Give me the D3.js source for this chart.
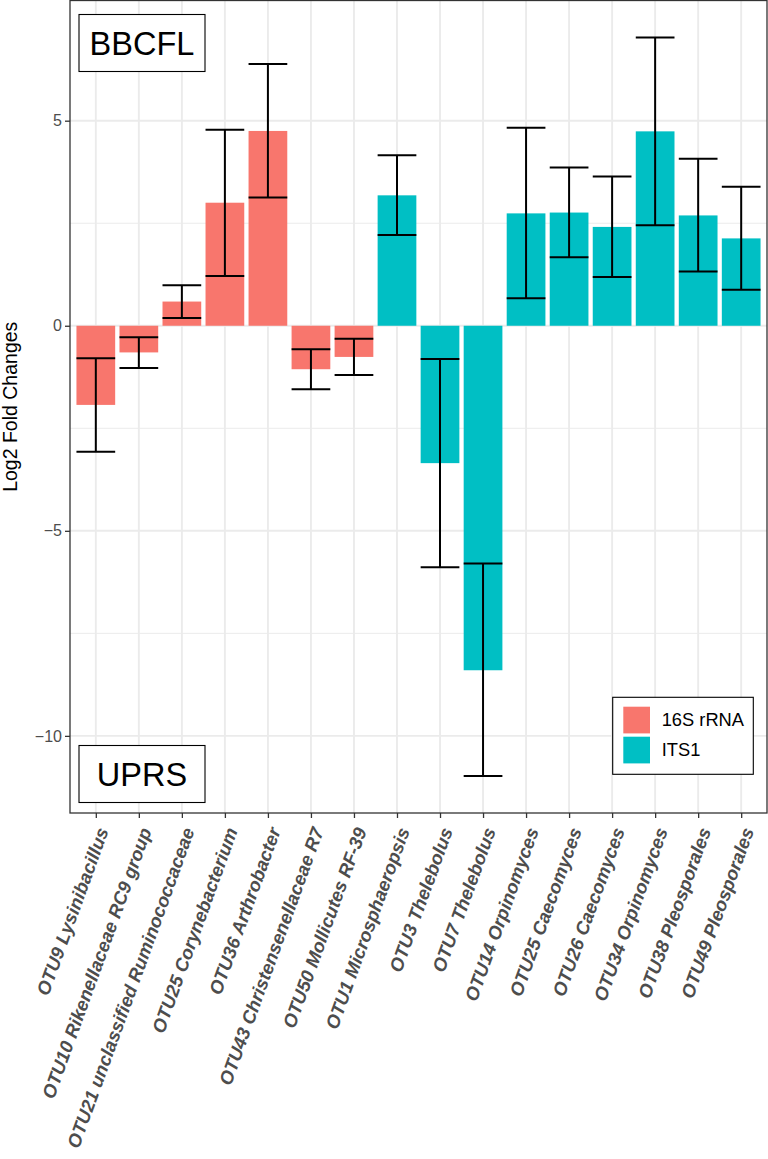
<!DOCTYPE html>
<html><head><meta charset="utf-8">
<script src="https://cdn.jsdelivr.net/npm/d3@7"></script>
<style>
html,body{margin:0;padding:0;background:#fff;}
svg{display:block;font-family:"Liberation Sans",Arial,Helvetica,sans-serif;}
</style></head>
<body>
<svg id="chart" width="768" height="1159"></svg>
<script>
// ---- data ----
const categories = [
  "OTU9 Lysinibacillus","OTU10 Rikenellaceae RC9 group","OTU21 unclassified Ruminococcaceae",
  "OTU25 Corynebacterium","OTU36 Arthrobacter","OTU43 Christensenellaceae R7","OTU50 Mollicutes RF-39",
  "OTU1 Microsphaeropsis","OTU3 Thelebolus","OTU7 Thelebolus","OTU14 Orpinomyces","OTU25 Caecomyces",
  "OTU26 Caecomyces","OTU34 Orpinomyces","OTU38 Pleosporales","OTU49 Pleosporales"
];
const groups = ["16S rRNA","16S rRNA","16S rRNA","16S rRNA","16S rRNA","16S rRNA","16S rRNA",
  "ITS1","ITS1","ITS1","ITS1","ITS1","ITS1","ITS1","ITS1","ITS1"];
const log2fc = [-1.93,-0.65,0.59,3.00,4.75,-1.06,-0.76,3.18,-3.35,-8.40,2.74,2.76,2.41,4.74,2.69,2.13];
const lower  = [-3.07,-1.03,0.19,1.21,3.13,-1.55,-1.20,2.21,-5.89,-10.98,0.67,1.67,1.19,2.45,1.32,0.88];
const upper  = [-0.79,-0.28,0.99,4.78,6.38,-0.57,-0.32,4.16,-0.81,-5.80,4.83,3.86,3.64,7.03,4.07,3.39];
const seriesNames = ["16S rRNA","ITS1"];
const seriesColors = ["#F8766D","#00BFC4"];
const yTicks = [-10,-5,0,5];
const yMinor = [-7.5,-2.5,2.5];
const panelLabels = ["BBCFL","UPRS"];
const yTitle = "Log2 Fold Changes";

// ---- layout ----
const svg = d3.select("#chart");
const P = {left:70, right:767, top:0.5, bottom:813};
const idx = d3.range(categories.length);

const x = d3.scaleBand().domain(idx).range([P.left,P.right]).paddingInner(0.1).paddingOuter(0.15);
const lo = d3.min(lower), hi = d3.max(upper), ex = (hi-lo)*0.05;
const y = d3.scaleLinear().domain([lo-ex, hi+ex]).range([P.bottom,P.top]);
const color = d3.scaleOrdinal().domain(seriesNames).range(seriesColors);
const cx = i => x(i) + x.bandwidth()/2;

// grid
const g = svg.append("g");
g.selectAll("line.minor").data(yMinor).join("line")
  .attr("x1",P.left).attr("x2",P.right).attr("y1",d=>y(d)).attr("y2",d=>y(d))
  .attr("stroke","#EBEBEB").attr("stroke-width",1);
g.selectAll("line.majy").data(yTicks).join("line")
  .attr("x1",P.left).attr("x2",P.right).attr("y1",d=>y(d)).attr("y2",d=>y(d))
  .attr("stroke","#EBEBEB").attr("stroke-width",1.9);
g.selectAll("line.majx").data(idx).join("line")
  .attr("x1",d=>cx(d)).attr("x2",d=>cx(d)).attr("y1",P.top).attr("y2",P.bottom)
  .attr("stroke","#EBEBEB").attr("stroke-width",1.9);

// bars
svg.append("g").selectAll("rect").data(idx).join("rect")
  .attr("x",d=>x(d)).attr("width",x.bandwidth())
  .attr("y",d=>y(Math.max(0,log2fc[d])))
  .attr("height",d=>Math.abs(y(log2fc[d])-y(0)))
  .attr("fill",d=>color(groups[d]));

// error bars
const eb = svg.append("g").attr("stroke","#000").attr("stroke-width",2).attr("fill","none");
idx.forEach(i=>{
  eb.append("line").attr("x1",cx(i)).attr("x2",cx(i)).attr("y1",y(lower[i])).attr("y2",y(upper[i]));
  eb.append("line").attr("x1",x(i)).attr("x2",x(i)+x.bandwidth()).attr("y1",y(lower[i])).attr("y2",y(lower[i]));
  eb.append("line").attr("x1",x(i)).attr("x2",x(i)+x.bandwidth()).attr("y1",y(upper[i])).attr("y2",y(upper[i]));
});

// panel labels (boxes)
const boxes = [
  {t:panelLabels[0], x0:P.left+9, y0:P.top+14, w:126, h:57},
  {t:panelLabels[1], x0:P.left+9, y0:P.bottom-67.5, w:126, h:57}
];
boxes.forEach(b=>{
  svg.append("rect").attr("x",b.x0).attr("y",b.y0).attr("width",b.w).attr("height",b.h)
    .attr("fill","#fff").attr("stroke","#000").attr("stroke-width",1.1);
  svg.append("text").attr("x",b.x0+b.w/2).attr("y",b.y0+b.h/2+11.5)
    .attr("text-anchor","middle").attr("font-size",32.5).attr("fill","#000").text(b.t);
});

// legend
const L = {x:612.7, y:697.3, w:140.6, h:77};
svg.append("rect").attr("x",L.x).attr("y",L.y).attr("width",L.w).attr("height",L.h)
  .attr("fill","#fff").attr("stroke","#000").attr("stroke-width",1.1);
seriesNames.forEach((s,k)=>{
  svg.append("rect").attr("x",L.x+10.6).attr("y",L.y+9.4+k*30).attr("width",26.7).attr("height",26.7)
    .attr("fill",color(s));
  svg.append("text").attr("x",L.x+49).attr("y",L.y+28.5+k*30).attr("font-size",18.3)
    .attr("fill","#000").text(s);
});

// panel border
svg.append("rect").attr("x",P.left).attr("y",P.top).attr("width",P.right-P.left).attr("height",P.bottom-P.top)
  .attr("fill","none").attr("stroke","#333333").attr("stroke-width",1.3);

// y axis
const ya = svg.append("g").attr("transform",`translate(${P.left},0)`)
  .call(d3.axisLeft(y).tickValues(yTicks).tickSize(5).tickPadding(3).tickFormat(d3.format("d")));
ya.select(".domain").remove();
ya.selectAll(".tick line").attr("stroke","#333333").attr("stroke-width",1.3);
ya.selectAll(".tick text").attr("fill","#4D4D4D").attr("font-size",16)
  .attr("font-family","Liberation Sans, Arial, sans-serif");

// x axis
const xa = svg.append("g").attr("transform",`translate(0,${P.bottom})`)
  .call(d3.axisBottom(d3.scalePoint().domain(idx).range([cx(0),cx(idx.length-1)])).tickSize(5).tickFormat(d=>categories[d]));
xa.select(".domain").remove();
xa.selectAll(".tick line").attr("stroke","#333333").attr("stroke-width",1.3);
xa.selectAll(".tick text")
  .attr("fill","#4D4D4D").attr("font-size",18.5).attr("font-weight","bold").attr("font-style","italic")
  .attr("font-family","Liberation Sans, Arial, sans-serif")
  .attr("text-anchor","end").attr("x",0).attr("y",13).attr("dy","0.72em")
  .attr("transform","rotate(-70 0 13)");

// y title
svg.append("text").attr("transform",`translate(17,${(P.top+P.bottom)/2}) rotate(-90)`)
  .attr("text-anchor","middle").attr("font-size",19.5).attr("fill","#000").text(yTitle);
</script>
</body></html>
